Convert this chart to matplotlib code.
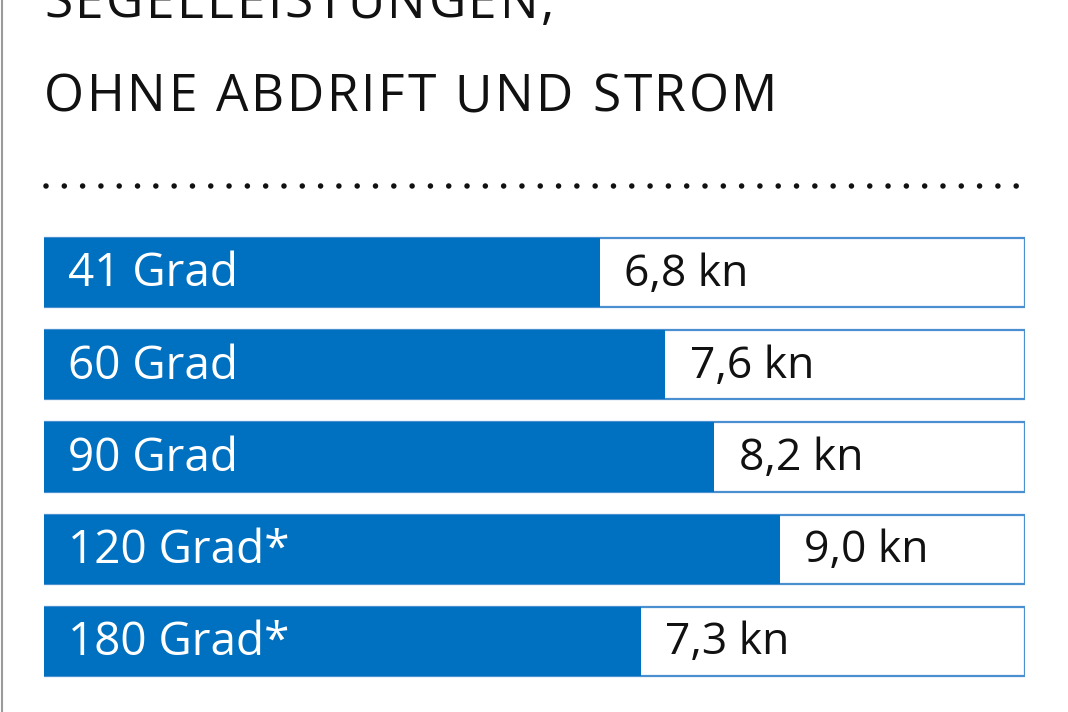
import matplotlib
matplotlib.use("Agg")
import matplotlib.pyplot as plt
from matplotlib.lines import Line2D
from matplotlib.font_manager import FontProperties

categories = ["41 Grad", "60 Grad", "90 Grad", "120 Grad*", "180 Grad*"]
values = [6.8, 7.6, 8.2, 9.0, 7.3]
value_labels = ["6,8 kn", "7,6 kn", "8,2 kn", "9,0 kn", "7,3 kn"]
title_lines = ["SEGELLEISTUNGEN,", "OHNE ABDRIFT UND STROM"]
xmax = 12.0

BLUE = "#0070c0"
EDGE = "#4a90d0"
FONT = "Open Sans"

W, H = 1068, 712
fig = plt.figure(figsize=(W / 100, H / 100), dpi=100)
fig.patch.set_facecolor("white")
renderer = fig.canvas.get_renderer()

# left border
fig.add_artist(Line2D([1.5 / W, 1.5 / W], [0, 1], transform=fig.transFigure,
                      color="#9a9a9a", lw=1.5))


def text_width(s, prop):
    w_ref, _, _ = renderer.get_text_width_height_descent("I", prop, ismath=False)
    w, _, _ = renderer.get_text_width_height_descent(s + "I", prop, ismath=False)
    return w - w_ref


def tracked_text(x_px, baseline_px, s, size, tracking_px):
    prop = FontProperties(family=FONT, size=size)
    for i, ch in enumerate(s):
        if ch == " ":
            continue
        off = text_width(s[:i], prop) if i > 0 else 0.0
        fig.text((x_px + off + i * tracking_px) / W, 1 - baseline_px / H, ch,
                 fontproperties=prop, color="#111111", va="baseline", ha="left")


# title (letter-spaced)
tracked_text(44, 18, title_lines[0], 37, 2.7)
tracked_text(44, 111, title_lines[1], 37, 2.7)

# dotted rule
lw = 4.0
fig.add_artist(Line2D([46 / W, 1027 / W], [1 - 186 / H, 1 - 186 / H],
                      transform=fig.transFigure, color="#111111", lw=lw,
                      linestyle=(0, (0.001, 18.3 * 0.72 / lw)),
                      dash_capstyle="round"))

top, bottom = 226.5, 687.5
ax = fig.add_axes([44 / W, 1 - bottom / H, 981 / W, (bottom - top) / H])
ax.set_xlim(0, xmax)
ax.set_ylim(len(categories) - 0.5, -0.5)
ax.axis("off")

ypos = list(range(len(categories)))
ax.barh(ypos, [xmax] * len(values), height=0.75, left=0, color="white",
        edgecolor=EDGE, linewidth=1.6, zorder=1)
ax.barh(ypos, values, height=0.75, left=0, color=BLUE, edgecolor="none",
        zorder=2)

for y, c, v, lab in zip(ypos, categories, values, value_labels):
    ax.text(0.29, y + 0.02, c, color="white", fontsize=33, family=FONT,
            va="center", ha="left", zorder=3)
    ax.text(v + 0.3, y + 0.02, lab, color="#111111", fontsize=32,
            family=FONT, va="center", ha="left", zorder=3)

fig.savefig("out.png", dpi=100, facecolor="white")
